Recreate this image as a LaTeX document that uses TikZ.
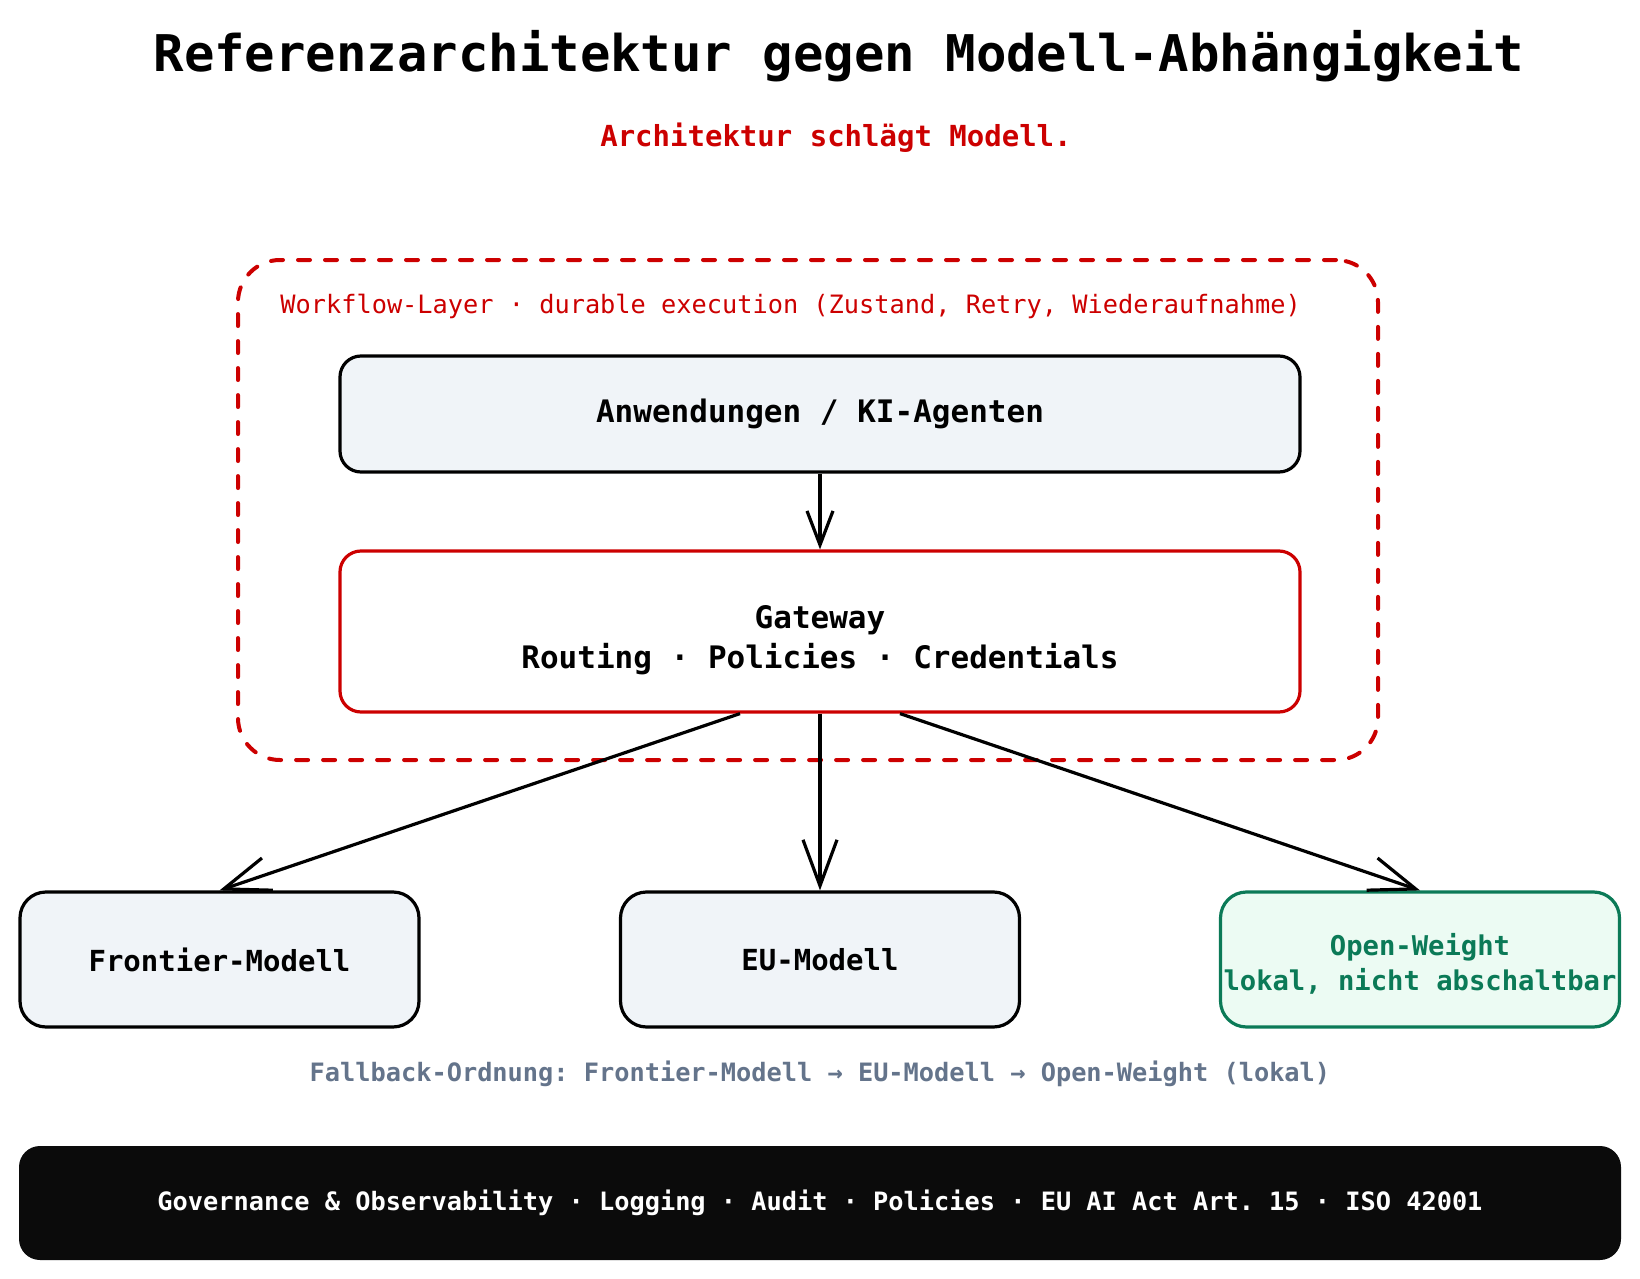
\documentclass[tikz,border=0pt]{standalone}
\usepackage{fontspec}
\setmonofont{DejaVu Sans Mono}
\usetikzlibrary{arrows.meta,positioning}
\definecolor{layerred}{HTML}{CC0000}
\definecolor{boxgray}{HTML}{F0F4F8}
\definecolor{localgreen}{HTML}{0B7A57}
\definecolor{localfill}{HTML}{ECFBF3}
\definecolor{notegray}{HTML}{64748B}
\definecolor{barblack}{HTML}{0B0B0B}

\begin{document}
\begin{tikzpicture}[
  x=0.5pt, y=-0.5pt,
  box/.style={draw,line width=1.6pt,rounded corners=10.5pt,fill=boxgray,align=center,inner sep=0pt,
    font=\ttfamily\bfseries\fontsize{15.5}{20}\selectfont},
  modelbox/.style={box,minimum width=199.5pt,minimum height=67.5pt,rounded corners=13pt,
    font=\ttfamily\bfseries\fontsize{14.5}{18}\selectfont},
  layerbox/.style={draw=layerred,line width=2pt,rounded corners=21pt,dash pattern=on 6pt off 7.5pt,
    line cap=round,inner sep=0pt},
  flow/.style={line width=1.6pt,-{Straight Barb[length=23pt,width=17pt]}},
  shortflow/.style={line width=1.6pt,-{Straight Barb[length=17pt,width=13pt]}}
]
\useasboundingbox (0,0) rectangle (1640,1279);

\node[font=\ttfamily\bfseries\fontsize{25.3}{30}\selectfont] (title) at (839,56)
  {Referenzarchitektur gegen Modell-Abhängigkeit};
\node[text=layerred,font=\ttfamily\bfseries\fontsize{14.5}{18}\selectfont] (claim) at (836,138)
  {Architektur schlägt Modell.};

\node[layerbox,minimum width=570pt,minimum height=250pt] (layer) at (808,510) {};
\node[anchor=west,inner sep=0pt,text=layerred,font=\ttfamily\fontsize{12.65}{16}\selectfont] (layerlabel) at (280,306)
  {Workflow-Layer · durable execution (Zustand, Retry, Wiederaufnahme)};

\node[box,minimum width=480pt,minimum height=58pt] (apps) at (820,414) {\raisebox{-1.5pt}{Anwendungen / KI-Agenten}};
\node[box,draw=layerred,fill=white,minimum width=480pt,minimum height=80.5pt] (gw) at (820,631.5) {};
\node[align=center,font=\ttfamily\bfseries\fontsize{15.5}{20}\selectfont] (gwtext) at (820,640)
  {Gateway\\Routing · Policies · Credentials};

\node[modelbox] (frontier) at (219.5,959.5) {Frontier-Modell};
\node[modelbox] (eu) at (820,959.5) {EU-Modell};
\node[modelbox,draw=localgreen,fill=localfill] (open) at (1420,959.5) {};
\node[align=center,inner sep=0pt,text=localgreen,font=\ttfamily\bfseries\fontsize{13.6}{17.5}\selectfont] (opentext) at (1420,964)
  {Open-Weight\\lokal, nicht abschaltbar};

\draw[shortflow] (apps) -- (gw);
\draw[flow] ([xshift=-40pt]gw.south) -- (frontier.north);
\draw[flow] (gw) -- (eu);
\draw[flow] ([xshift=40pt]gw.south) -- (open.north);

\node[text=notegray,font=\ttfamily\bfseries\fontsize{12.65}{16}\selectfont] (fallback) at (820,1074)
  {Fallback-Ordnung: Frontier-Modell → EU-Modell → Open-Weight (lokal)};

\node[fill=barblack,rounded corners=10.5pt,minimum width=801pt,minimum height=57pt,text=white,
  font=\ttfamily\bfseries\fontsize{12.65}{16}\selectfont] (governance) at (820,1203)
  {\raisebox{-1pt}{Governance \& Observability · Logging · Audit · Policies · EU AI Act Art. 15 · ISO 42001}};
\end{tikzpicture}
\end{document}
